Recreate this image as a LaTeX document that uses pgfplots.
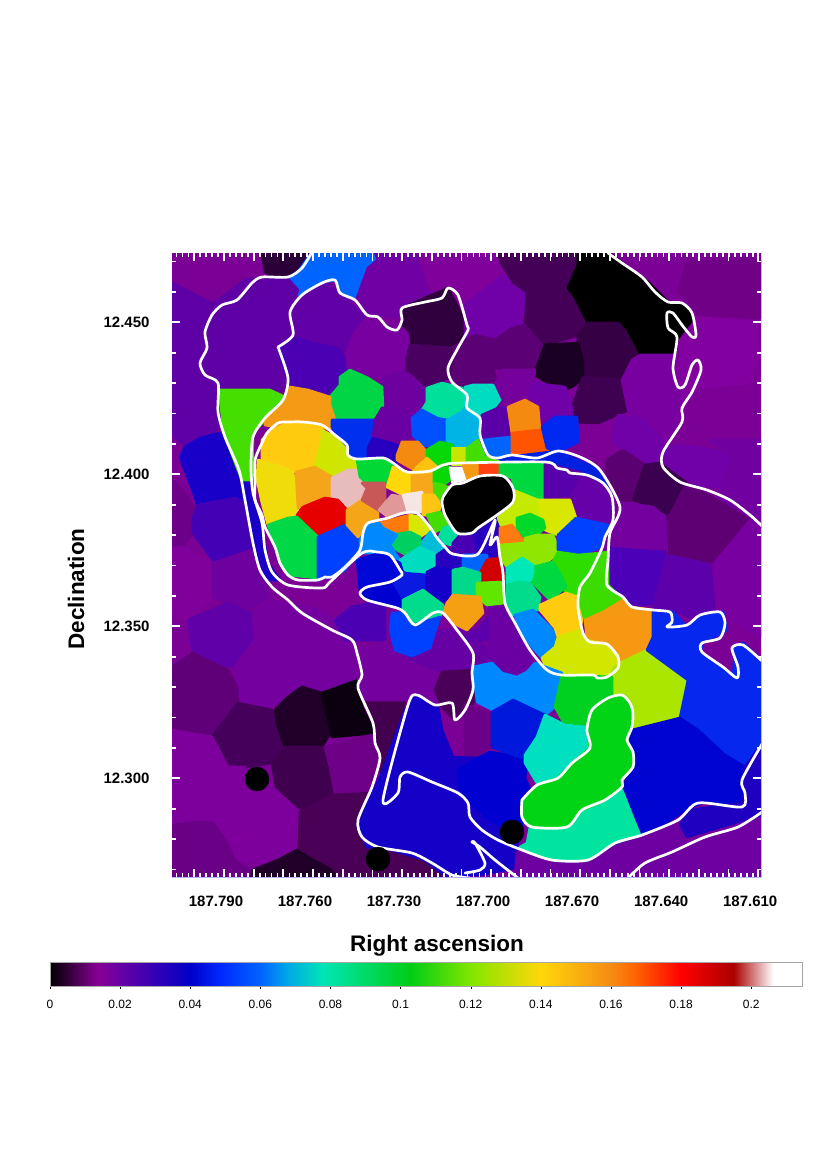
\documentclass[border=0pt]{standalone}
\usepackage{fontspec}
\setmainfont{Liberation Sans}
\usepackage{pgfplots}
\pgfplotsset{compat=1.18}
% all map coordinates are pixels of the picture, 1px = 1pt
\newcommand{\cell}[2]{\xglobal\definecolor{c#1}{HTML}{#1}%
  \addplot[fill=c#1,draw=c#1,line width=2.6pt,line join=round,forget plot] coordinates {#2} -- cycle;}
\newcommand{\seg}[4]{\xglobal\definecolor{c#3}{HTML}{#3}\xglobal\definecolor{c#4}{HTML}{#4}%
  \addplot[draw=none,left color=c#3,right color=c#4,forget plot] coordinates {(#1,0)(#2,0)(#2,1)(#1,1)} -- cycle;}
\newcommand{\cont}[1]{\addplot[white,line width=2.7pt,line join=round,line cap=round,smooth,tension=0.45,forget plot] coordinates {#1};}
\begin{document}
\begin{tikzpicture}[x=1pt,y=1pt]
\path[use as bounding box] (0,0) rectangle (830pt,-1175pt);
\begin{axis}[
  at={(172pt,-253pt)}, anchor=north west, scale only axis,
  width=589pt, height=624pt,
  xmin=172, xmax=761, ymin=253, ymax=877, y dir=reverse,
  axis on top, axis line style={draw=none},
  tick align=inside, tick style={white,line width=1.7pt},
  major tick length=8pt, minor tick length=3.8pt,
  xtick={194.3,224,253.7,283.3,313,342.7,372.4,402,431.7,461.4,491.1,520.8,550.5,580.1,609.8,639.5,669.2,698.9,728.5,758.2},
  xticklabels={,187.790,,,187.760,,,187.730,,,187.700,,,187.670,,,187.640,,,187.610},
  minor xtick={176.49,182.43,...,758.2},
  ytick={322.3,474.3,626.3,778.3},
  yticklabels={12.450,12.400,12.350,12.300},
  minor ytick={261.5,291.9,352.7,383.1,413.5,443.9,504.7,535.1,565.5,595.9,656.7,687.1,717.5,747.9,808.7,839.1,869.5},
  xticklabel pos=lower,
  tick label style={font=\fontsize{15pt}{17pt}\selectfont\bfseries},
  every x tick label/.style={xshift=-8pt,yshift=-15pt},
  every y tick label/.style={xshift=-19pt},
  xlabel={Right ascension}, ylabel={Declination},
  xlabel style={at={(axis cs:437,946)},anchor=center,font=\fontsize{22.5pt}{26pt}\selectfont\bfseries},
  ylabel style={at={(axis cs:76,589)},anchor=center,font=\fontsize{22.5pt}{26pt}\selectfont\bfseries},
]
% base and large outer cells
\cell{7A0096}{(172,253)(761,253)(761,877)(172,877)}
\cell{2B0038}{(262,252)(265,272)(278,279)(298,272)(312,252)}
\cell{0064FF}{(312,252)(298,272)(288,279)(288,288)(301,296)(325,282)(335,280)(345,297)(357,298)(368,268)(378,260)(375,252)}
\cell{5E00A6}{(172,282)(190,292)(213,304)(246,279)(288,279)(298,290)(292,305)(295,332)(278,348)(285,390)(218,390)(223,425)(212,433)(185,445)(172,436)}
\cell{6200A8}{(292,305)(302,295)(325,282)(338,292)(365,317)(355,332)(347,352)(338,348)(312,343)(298,338)(280,345)(295,332)}
\cell{4B00B4}{(280,345)(298,338)(312,343)(338,348)(348,362)(348,370)(340,377)(340,385)(330,397)(322,395)(308,390)(290,387)(285,372)(278,352)}
\cell{7000A4}{(357,298)(368,268)(378,260)(375,252)(420,252)(422,265)(432,292)(402,306)(397,318)(385,316)(370,316)}
\cell{80009C}{(420,252)(498,252)(502,265)(513,282)(503,275)(465,305)(467,290)(448,288)(432,292)(422,265)}
\cell{7800A0}{(347,352)(355,332)(365,320)(408,328)(412,345)(407,358)(407,370)(382,378)(348,370)}
\cell{6E00A0}{(382,387)(382,378)(407,370)(425,385)(427,390)(422,410)(412,415)(395,408)(383,408)}
\cell{2F003D}{(402,308)(448,288)(467,325)(468,332)(452,348)(412,345)(410,332)(403,325)}
\cell{7000A8}{(465,305)(503,275)(527,292)(525,325)(495,340)(465,335)}
\cell{5C0076}{(452,348)(475,335)(495,340)(493,368)(498,388)(473,385)(465,387)(447,378)(453,365)}
\cell{4A0060}{(410,345)(452,348)(453,365)(447,378)(432,387)(425,385)(412,373)(407,370)(407,358)}
\cell{430056}{(498,252)(578,252)(578,265)(572,278)(572,288)(575,297)(588,323)(578,335)(552,343)(542,345)(525,325)(527,292)(513,282)(502,265)}
\cell{000000}{(578,255)(608,252)(648,282)(668,302)(680,303)(692,315)(696,338)(680,335)(680,352)(638,355)(625,330)(618,323)(588,323)(575,297)(568,288)(578,265)}
\cell{360044}{(578,335)(588,323)(618,323)(625,330)(638,355)(635,360)(632,370)(622,380)(597,377)(583,377)(585,362)(582,353)(578,343)}
\cell{1A0022}{(542,345)(578,343)(583,362)(583,378)(575,385)(565,390)(555,387)(535,375)(532,371)(538,362)}
\cell{5C0076}{(495,340)(512,328)(525,325)(542,345)(533,370)(495,368)(493,352)}
\cell{3E0050}{(572,408)(583,377)(622,380)(628,402)(628,410)(598,423)(575,422)}
\cell{76009C}{(502,370)(535,370)(533,383)(512,402)(498,408)(495,385)}
\cell{7000A8}{(533,383)(565,387)(572,408)(572,418)(555,417)(542,425)(537,405)(525,400)}
\cell{700086}{(678,292)(687,262)(761,260)(761,318)(698,315)(690,302)}
\cell{8200A0}{(698,317)(755,322)(758,358)(748,383)(698,388)(682,408)(675,398)(672,358)(678,355)(680,340)}
\cell{7800A0}{(632,360)(640,355)(678,355)(672,375)(680,395)(682,412)(673,430)(660,450)(645,432)(628,410)(622,380)}
\cell{7000A8}{(618,415)(645,420)(665,445)(695,447)(733,453)(724,487)(687,485)(660,465)(645,463)(622,450)(612,440)}
\cell{7000A0}{(710,440)(761,440)(761,527)(750,520)(717,500)(733,457)}
\cell{5A0070}{(607,460)(623,450)(645,465)(645,473)(633,500)(618,502)(607,473)}
\cell{3C0050}{(645,465)(660,463)(687,483)(688,493)(670,515)(653,507)(633,500)}
\cell{5E0074}{(687,483)(717,500)(750,520)(737,540)(713,565)(667,555)(665,517)(670,515)}
\cell{7400A0}{(618,502)(653,507)(665,517)(667,552)(610,548)(605,550)(613,525)}
\cell{4C00B8}{(610,548)(665,552)(653,603)(632,607)(623,597)(607,588)(610,570)}
\cell{5C00AC}{(667,555)(713,565)(717,610)(707,610)(690,617)(672,610)(653,608)}
\cell{7800A0}{(713,565)(750,520)(761,527)(761,637)(725,615)(717,610)}
% left column
\cell{1800C8}{(180,457)(185,447)(200,438)(220,433)(238,468)(242,480)(252,480)(255,503)(262,527)(268,563)(280,580)(262,580)(250,530)(198,505)}
\cell{6C0088}{(172,480)(182,490)(197,510)(193,533)(182,547)(172,548)}
\cell{4400B4}{(193,517)(198,505)(235,498)(245,503)(252,550)(215,563)(193,533)}
\cell{80009C}{(172,548)(182,547)(213,563)(213,597)(188,620)(172,612)}
\cell{6E00A0}{(213,563)(252,550)(265,580)(268,597)(252,608)(228,603)(213,597)}
\cell{5F00A8}{(188,620)(228,603)(252,613)(255,640)(235,667)(222,665)(193,653)}
\cell{7400A0}{(253,613)(270,600)(320,610)(355,640)(360,665)(358,682)(330,690)(300,695)(270,705)(265,712)(240,700)(235,667)(255,640)}
\cell{5F0078}{(172,667)(193,653)(228,670)(237,687)(238,703)(213,733)(193,737)(172,730)}
\cell{44005A}{(212,737)(238,703)(272,710)(275,723)(285,747)(272,763)(245,767)(235,777)(228,767)}
\cell{200028}{(275,710)(288,697)(302,687)(322,693)(332,730)(322,747)(285,747)(278,727)}
\cell{0A0010}{(322,693)(358,680)(362,707)(375,733)(332,737)}
\cell{42004F}{(365,700)(398,697)(405,700)(397,735)(381,772)(378,770)(372,750)(375,730)}
\cell{6E0088}{(322,748)(372,735)(381,758)(373,793)(332,793)(328,770)}
\cell{3F0050}{(285,747)(322,747)(328,770)(332,793)(302,810)(278,797)(272,763)}
\cell{7E009C}{(172,730)(212,737)(228,767)(245,767)(245,780)(272,787)(300,812)(298,850)(265,863)(235,860)(225,840)(213,823)(198,822)(172,825)}
\cell{6A0086}{(172,825)(198,822)(213,823)(225,840)(235,860)(250,870)(252,877)(172,877)}
\cell{4B0058}{(300,812)(332,795)(373,793)(358,827)(367,847)(392,850)(425,860)(452,877)(298,877)}
\cell{200028}{(253,870)(278,860)(297,850)(308,857)(332,870)(335,877)(252,877)}
% below the centre
\cell{7A0098}{(332,573)(352,560)(362,573)(368,580)(362,590)(360,600)(345,605)(333,593)}
\cell{4C00B4}{(335,620)(352,607)(372,603)(385,602)(385,640)(345,640)}
\cell{7400A0}{(358,650)(382,643)(405,657)(435,672)(435,690)(442,707)(415,695)(405,700)(365,700)(358,680)}
\cell{6600A4}{(435,632)(450,630)(467,625)(478,640)(510,670)(517,677)(502,673)(492,663)(473,667)(442,672)(405,657)(412,656)(430,648)}
\cell{5C00AC}{(480,627)(497,607)(505,607)(505,640)(463,640)}
\cell{6A00A4}{(490,607)(507,607)(515,623)(523,637)(533,663)(520,677)(500,663)(490,663)}
\cell{4A0058}{(435,690)(442,672)(473,670)(476,700)(455,720)(442,707)}
\cell{6C0088}{(465,705)(490,713)(492,747)(473,758)(465,760)}
\cell{1500C8}{(372,793)(382,773)(393,742)(405,710)(415,695)(438,707)(442,730)(453,757)(478,758)(490,760)(525,775)(520,800)(517,852)(515,868)(480,875)(445,875)(425,860)(392,850)(367,847)(358,827)}
\cell{0000D0}{(478,758)(490,752)(528,758)(525,778)(535,800)(522,815)(522,835)(510,830)(490,820)(468,800)(460,787)(458,770)}
\cell{6E00A2}{(517,852)(552,862)(588,860)(615,843)(640,835)(665,820)(680,830)(685,845)(761,815)(761,877)(515,877)}
% upper middle cells
\cell{00D546}{(330,397)(340,385)(340,377)(350,370)(368,378)(382,387)(383,408)(375,420)(332,420)(330,405)}
\cell{44DE00}{(219,390)(270,390)(285,397)(285,403)(265,420)(253,433)(252,480)(242,480)(236,465)(224,433)}
\cell{F59A14}{(290,387)(308,390)(330,397)(330,405)(335,420)(333,428)(290,430)(265,425)(265,420)(285,403)}
\cell{0030EE}{(332,420)(375,420)(373,427)(375,438)(368,448)(368,457)(348,457)(345,445)(332,427)}
\cell{6A00A4}{(375,420)(382,408)(395,408)(412,415)(413,435)(400,442)(373,437)}
\cell{2800C0}{(368,448)(373,438)(398,445)(400,453)(395,465)(368,462)}
\cell{00E09C}{(427,388)(442,383)(462,388)(467,405)(462,412)(447,420)(437,418)(422,410)(427,402)}
\cell{0050FF}{(412,418)(422,410)(437,418)(447,420)(447,442)(435,447)(422,445)(413,435)}
\cell{00B4E6}{(447,420)(462,412)(467,405)(482,418)(480,438)(465,447)(447,445)}
\cell{00DCC0}{(465,387)(473,385)(493,385)(500,400)(490,413)(482,415)(465,405)}
\cell{5A00A8}{(482,415)(498,408)(510,408)(510,437)(483,440)(482,430)}
\cell{0064FF}{(483,440)(510,437)(512,458)(485,458)}
\cell{F58A10}{(508,407)(525,400)(538,407)(540,430)(512,434)}
\cell{FF5500}{(512,433)(540,430)(548,448)(547,458)(512,458)}
\cell{0028F0}{(542,427)(555,417)(577,417)(578,442)(558,452)(547,448)}
\cell{0020E0}{(500,458)(558,451)(600,470)(612,497)(583,473)(545,463)(500,463)}
\cell{F58A10}{(397,455)(402,442)(418,442)(427,452)(427,458)(418,472)(397,460)}
\cell{08D808}{(427,450)(440,442)(453,445)(452,463)(440,467)(427,458)}
\cell{C8E600}{(452,448)(467,448)(467,465)(452,465)}
\cell{44DD00}{(467,448)(478,440)(485,457)(500,462)(467,465)}
% main central group
\cell{FFCB0E}{(262,440)(272,430)(288,423)(303,423)(322,427)(322,440)(315,465)(293,472)(282,467)(262,460)}
\cell{D0E600}{(322,430)(335,437)(347,450)(347,457)(357,460)(357,468)(348,472)(332,477)(315,465)(322,440)}
\cell{F0DC0A}{(258,460)(282,467)(293,472)(298,507)(297,515)(288,518)(268,525)(262,503)(257,480)}
\cell{F5A518}{(296,472)(315,467)(332,477)(332,498)(313,503)(298,508)}
\cell{E8BCBC}{(332,478)(348,470)(358,470)(362,483)(367,488)(362,500)(348,507)(332,498)}
\cell{E60000}{(297,515)(303,507)(325,498)(338,500)(347,510)(345,523)(318,537)(298,520)}
\cell{00D846}{(268,525)(288,518)(297,517)(318,537)(318,578)(288,575)(280,563)(275,543)}
\cell{0040FF}{(318,537)(345,525)(358,537)(362,543)(358,553)(345,570)(332,577)(318,578)}
\cell{F5A518}{(347,510)(362,500)(378,513)(378,522)(368,523)(362,533)(358,537)(347,525)}
\cell{00D835}{(357,460)(383,458)(393,465)(390,483)(367,483)(360,477)}
\cell{C85858}{(362,483)(385,483)(385,500)(378,510)(362,500)(367,488)}
\cell{FFD70A}{(393,467)(407,472)(412,475)(412,492)(403,495)(387,487)}
\cell{F6A81A}{(412,474)(433,472)(434,493)(423,495)(412,492)}
\cell{FFC20F}{(417,467)(427,458)(437,467)(433,472)(412,473)}
\cell{08D808}{(434,470)(450,467)(453,478)(443,485)(434,483)}
\cell{44DD00}{(434,483)(443,485)(450,488)(442,500)(435,498)}
\cell{FFFFFF}{(450,468)(463,468)(467,480)(453,485)}
\cell{F59A14}{(463,465)(480,463)(480,475)(468,480)}
\cell{FF4010}{(480,463)(500,463)(500,474)(480,475)}
\cell{00D840}{(500,463)(546,463)(546,500)(530,505)(515,490)(512,478)(500,474)}
\cell{E09898}{(379,510)(392,495)(403,497)(408,512)(388,517)}
\cell{F5E6E4}{(403,495)(422,492)(423,512)(408,512)}
\cell{FFC512}{(423,495)(434,495)(440,503)(439,515)(423,515)}
\cell{FF7A0A}{(379,523)(410,515)(410,532)(397,535)(383,528)}
\cell{D8E600}{(410,515)(420,517)(430,530)(420,537)(410,532)}
\cell{44DD00}{(427,515)(440,512)(452,525)(443,528)(435,532)}
\cell{00E09C}{(443,528)(452,525)(457,535)(450,545)(438,540)}
\cell{00BCD8}{(430,532)(440,540)(445,547)(433,555)(420,545)}
\cell{00D060}{(390,535)(410,532)(420,537)(420,545)(410,557)(397,550)(390,545)}
\cell{0088FF}{(368,525)(379,523)(383,528)(397,535)(390,545)(400,560)(380,553)(360,553)(360,540)}
\cell{00DCC0}{(400,560)(420,547)(437,555)(435,567)(427,575)(417,575)(405,570)}
\cell{2800C0}{(437,555)(447,548)(463,560)(463,568)(453,570)(437,567)}
\cell{4800B4}{(453,543)(460,535)(473,535)(478,553)(453,553)}
\cell{2800C0}{(473,532)(497,515)(500,537)(497,557)(478,553)}
\cell{0064FF}{(463,555)(487,555)(487,570)(480,573)(463,568)}
\cell{D00000}{(487,560)(500,558)(505,582)(480,580)(480,573)}
\cell{0008D8}{(357,560)(380,553)(400,563)(403,573)(393,582)(373,585)(360,590)}
\cell{0000D0}{(360,590)(373,585)(393,582)(403,600)(403,608)(373,600)(362,597)}
\cell{0A1AE0}{(393,582)(403,573)(427,575)(427,590)(403,598)}
\cell{1400C8}{(427,572)(437,567)(453,570)(453,595)(440,603)(427,590)}
\cell{00D88A}{(453,570)(463,568)(480,573)(480,583)(477,597)(453,595)}
\cell{60E600}{(477,583)(503,582)(505,603)(487,605)(477,597)}
\cell{F59F12}{(447,603)(453,595)(480,597)(483,613)(467,630)(453,623)(443,613)}
\cell{00DC8C}{(403,600)(423,590)(443,605)(440,617)(413,623)(403,613)}
\cell{0040FF}{(392,613)(403,613)(413,625)(440,617)(435,632)(430,648)(412,656)(395,650)(390,630)}
% right central group
\cell{5800AC}{(545,463)(583,473)(573,495)(545,498)}
\cell{6600A8}{(573,493)(583,475)(610,490)(610,525)(600,522)(577,518)(572,500)}
\cell{C4EA00}{(513,490)(538,500)(543,520)(530,513)(517,518)(517,527)(510,525)(502,528)(498,518)}
\cell{D8E600}{(538,500)(570,500)(576,518)(558,535)(545,530)}
\cell{00D82A}{(517,518)(530,514)(543,520)(545,528)(537,535)(525,538)(517,528)}
\cell{FF7A10}{(500,528)(512,525)(525,543)(500,545)}
\cell{90E600}{(500,545)(525,543)(525,538)(537,535)(553,535)(558,547)(560,552)(543,565)(533,565)(522,558)(507,567)(500,557)}
\cell{0040FF}{(558,535)(576,518)(608,525)(602,547)(578,555)(558,550)}
\cell{2EDD00}{(558,552)(578,555)(600,553)(587,580)(578,597)(565,592)(562,577)(553,562)}
\cell{00D840}{(533,567)(553,562)(562,577)(566,587)(550,600)(533,583)}
\cell{00E8B8}{(507,568)(522,558)(533,565)(533,573)(530,582)(518,582)(507,585)}
\cell{00DC8C}{(507,585)(518,582)(530,583)(540,597)(538,610)(527,610)(513,615)(507,603)}
\cell{0088FF}{(515,615)(533,610)(550,627)(555,633)(555,647)(542,658)(532,647)(520,630)}
\cell{FFCB0E}{(540,605)(566,593)(578,597)(582,620)(580,630)(558,637)(555,628)(540,610)}
\cell{3CDC00}{(600,553)(608,552)(608,585)(623,600)(603,612)(585,620)(578,597)(587,580)}
\cell{F69812}{(585,620)(603,612)(623,600)(632,607)(653,610)(653,637)(647,650)(620,663)(618,653)(607,645)(587,640)}
\cell{D2E600}{(542,658)(555,647)(558,637)(580,630)(587,640)(607,645)(618,655)(617,670)(605,677)(562,675)(547,670)}
\cell{AAE600}{(612,683)(612,670)(620,663)(647,650)(688,680)(687,707)(680,718)(648,730)(632,730)(630,710)(622,695)(612,695)}
\cell{0628EE}{(653,610)(673,612)(687,627)(700,617)(723,612)(727,630)(703,643)(700,653)(733,677)(735,648)(743,643)(761,660)(761,745)(745,767)(725,755)(698,730)(680,718)(688,680)(647,650)(653,637)}
\cell{0088FF}{(473,667)(492,663)(502,673)(517,677)(527,672)(535,663)(562,673)(558,693)(555,707)(545,715)(522,702)(513,700)(493,710)(477,702)}
\cell{0018DC}{(492,712)(513,700)(545,715)(537,737)(530,745)(525,755)(522,758)(492,747)}
\cell{00D020}{(562,675)(612,677)(612,695)(598,705)(588,717)(585,727)(565,725)(555,707)(558,693)}
\cell{00E0C0}{(545,715)(565,725)(585,727)(590,743)(585,753)(572,763)(558,778)(537,783)(525,763)(525,755)(537,737)}
\cell{0004D0}{(632,730)(680,718)(698,730)(725,755)(745,767)(742,787)(742,803)(705,802)(688,808)(668,822)(642,835)(632,813)(620,793)(633,767)(633,752)(627,740)}
\cell{2000C0}{(688,810)(742,803)(745,790)(745,767)(761,745)(761,815)(687,837)(680,825)}
\cell{00E4A0}{(527,843)(530,827)(567,827)(582,810)(605,800)(622,790)(633,818)(640,835)(615,843)(588,860)(552,860)(520,847)}
\cell{00D414}{(522,800)(537,785)(558,778)(572,763)(590,748)(587,730)(592,710)(608,698)(622,695)(630,703)(633,713)(632,727)(627,740)(633,752)(633,767)(622,780)(622,787)(605,800)(582,810)(567,827)(532,827)(522,817)}
\cell{000000}{(442,503)(443,497)(452,485)(463,483)(480,476)(503,476)(513,488)(513,502)(497,515)(478,528)(472,533)(457,533)(445,515)}
% small black spots
\addplot[only marks,mark=*,mark size=12pt,black,forget plot] coordinates {(257,779)(378,859)(512,832)};
% contours
\cont{(312,252)(302,268)(288,277)(262,277)(252,283)(237,300)(222,305)(212,315)(205,332)(207,348)(200,363)(205,375)(218,383)(218,412)(225,437)(239,470)(245,500)(253,543)(260,570)(272,587)(288,600)(302,613)(332,630)(352,640)(357,653)(362,675)(358,688)(373,723)(375,743)(380,758)(372,787)(358,820)(362,837)(378,847)(412,853)(432,863)(452,875)(470,878)}
\cont{(608,253)(622,263)(642,277)(655,292)(668,302)(682,303)(692,313)(696,335)(692,337)(682,325)(673,313)(667,313)(668,328)(677,337)(673,368)(678,387)(685,385)(692,365)(698,360)(701,370)(692,392)(682,408)(682,422)(663,452)(663,467)(680,482)(707,490)(730,500)(750,515)(762,526)}
\cont{(278,347)(293,335)(290,312)(302,295)(322,283)(335,280)(340,293)(355,300)(367,315)(378,317)(387,327)(397,330)(402,320)(402,308)(425,302)(442,298)(448,288)(458,295)(467,325)(468,330)(458,348)(448,368)(452,382)(467,395)(467,408)(480,418)(480,435)(488,455)(498,458)(512,455)(537,458)(558,451)(580,457)(600,470)(620,507)(610,533)(608,560)(607,585)(623,597)(632,607)(653,610)(670,612)(672,622)(667,627)(687,625)(700,615)(720,612)(725,623)(720,638)(702,643)(702,652)(723,667)(737,678)(738,667)(732,648)(743,645)(762,661)}
\cont{(278,347)(288,378)(283,400)(265,418)(253,437)(251,467)(253,493)(262,523)(265,550)(272,572)(288,585)(322,588)(330,582)(362,553)(377,552)(390,555)(400,570)(402,575)(390,582)(367,587)(360,593)(367,600)(397,608)(405,613)(415,625)(433,613)(443,613)(457,630)(473,653)(472,673)(473,690)(465,710)(455,720)(452,703)(435,705)(417,695)(408,705)(383,800)(398,793)(400,777)(408,772)(432,782)(458,793)(468,803)(470,817)(482,830)(498,840)(522,850)(552,860)(588,860)(615,843)(642,835)(678,820)(698,803)(742,807)(745,793)(742,780)(762,744)}
\cont{(465,873)(480,870)(485,863)(475,843)(472,842)(480,847)(495,860)(518,878)}
\cont{(628,878)(645,863)(672,852)(705,837)(738,827)(762,812)}
\cont{(262,443)(267,433)(278,423)(288,422)(303,422)(322,425)(335,435)(347,445)(348,455)(357,459)(383,458)(393,463)(407,472)(430,471)(443,465)(460,463)(545,462)(557,468)(567,470)(570,473)(587,475)(603,483)(612,497)(613,520)(605,537)(602,548)(590,573)(580,587)(578,607)(583,633)(590,642)(607,644)(618,657)(618,668)(607,677)(597,678)(593,675)(562,675)(547,670)(530,650)(515,623)(505,603)(503,573)(500,557)(497,537)(490,545)(495,520)(478,554)(453,554)(445,547)(437,538)(430,527)(417,513)(403,513)(388,518)(368,523)(363,533)(360,550)(345,567)(332,577)(325,577)(318,580)(298,580)(288,575)(280,563)(275,547)(265,527)(262,515)(255,500)(255,483)(255,460)(262,443)}
\cont{(442,503)(443,497)(452,485)(463,483)(480,476)(503,476)(513,488)(513,502)(497,515)(478,528)(472,533)(457,533)(445,515)(442,503)}
\cont{(522,800)(537,785)(558,778)(572,763)(590,748)(587,730)(592,710)(608,698)(622,695)(630,703)(633,713)(632,727)(627,740)(633,752)(633,767)(622,780)(622,787)(605,800)(582,810)(567,827)(532,827)(522,817)(522,800)}
% frame seen on the right and bottom
\addplot[color=blue!30,line width=1pt,forget plot] coordinates {(761,253)(761,877)(172,877)};
\end{axis}
\begin{axis}[
  at={(50pt,-962pt)}, anchor=north west, scale only axis,
  width=752pt, height=24pt,
  xmin=0, xmax=0.2145, ymin=0, ymax=1,
  axis on top, axis line style={black!35,line width=0.6pt},
  ytick=\empty,
  xtick={0,0.02,0.04,0.06,0.08,0.1,0.12,0.14,0.16,0.18,0.2},
  xticklabels={0,0.02,0.04,0.06,0.08,0.1,0.12,0.14,0.16,0.18,0.2},
  x tick label style={font=\fontsize{12pt}{14pt}\selectfont,yshift=-8pt},
  tick align=outside, xtick pos=bottom, major tick length=3pt,
  tick style={black,line width=0.4pt},
]
\seg{0}{0.0137}{000000}{870096}
\seg{0.0137}{0.04}{870096}{0000C8}
\seg{0.04}{0.0485}{0000C8}{0028FF}
\seg{0.0485}{0.06}{0028FF}{0064FF}
\seg{0.06}{0.068}{0064FF}{00AAE6}
\seg{0.068}{0.078}{00AAE6}{00E6B4}
\seg{0.078}{0.1027}{00E6B4}{00CD14}
\seg{0.1027}{0.12}{00CD14}{82E600}
\seg{0.12}{0.14}{82E600}{FFD70A}
\seg{0.14}{0.16}{FFD70A}{F58C14}
\seg{0.16}{0.167}{F58C14}{FF6400}
\seg{0.167}{0.18}{FF6400}{FF0000}
\seg{0.18}{0.195}{FF0000}{AA0000}
\seg{0.195}{0.2063}{AA0000}{FFFFFF}
\end{axis}
\end{tikzpicture}
\end{document}
